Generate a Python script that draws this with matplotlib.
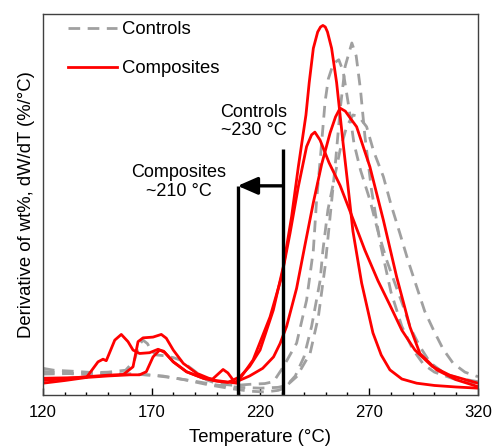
import matplotlib
matplotlib.use('Agg')
import matplotlib.pyplot as plt

plt.rcParams['font.family'] = ['Liberation Sans', 'DejaVu Sans']

# composites (red), temperature in C, derivative in arbitrary units (0-100)
comp1_t = [120, 130, 140, 145.3, 147.6, 149.1, 153, 156, 159.1, 161.4, 164.4, 169, 172.9, 175.9,
           179.9, 186, 193.7, 200, 205, 210.6, 215, 219.8, 225.9, 230.5, 234.3, 237.4, 240.9,
           242.4, 244.3, 246.3, 247.6, 248.7, 249.8, 250.8, 252.7, 255, 256.5, 258, 260, 262.5,
           266.5, 271.7, 275.5, 279.5, 285, 291.8, 300, 310, 320]
comp1_y = [4.4, 4.5, 4.6, 8.7, 9.4, 9.0, 14.4, 15.9, 14.0, 11.8, 10.9, 11.1, 12.0, 11.2,
           8.7, 6.1, 4.4, 3.6, 3.3, 4.8, 7.5, 11.8, 22.3, 33.7, 46.8, 59.9, 73.5,
           82, 91, 95.3, 96.6, 97, 96.6, 95.3, 91, 82, 74, 66, 56, 43,
           29.4, 16.3, 10.5, 6.6, 4.2, 3.1, 2.5, 2.1, 1.8]

comp2_t = [120, 130, 140, 150, 157, 161.4, 163.7, 166, 170.6, 174.4, 176.7, 179.9, 184.5, 190.7,
           198.3, 209.1, 216.6, 224.4, 229.7, 233.6, 237.4, 241.2, 243.5, 245, 247.4, 251.5, 256.6,
           262, 268, 274, 279.5, 285, 291, 299, 307, 320]
comp2_y = [3.8, 4.3, 4.8, 5.2, 5.4, 7.4, 14.0, 15.0, 15.2, 15.9, 14.9, 11.8, 8.3, 5.7,
           3.9, 3.1, 9.2, 20.5, 31.0, 42.5, 54.7, 65.2, 68.3, 69, 66.9, 61, 55,
           47, 38, 30, 23.6, 17, 11.8, 7.5, 5.2, 3.1]

comp3_t = [120, 130, 140, 150, 160, 164.4, 167.5, 170.6, 173.6, 175.5, 179.9, 186, 193.7, 198,
           200.5, 202.8, 205, 208.1, 210.6, 215, 221, 226, 229, 232, 236.6, 240.5, 244.3, 248.1,
           252, 254.5, 256.6, 259, 261.5, 264.2, 270.3, 276.5, 282.6, 288.7, 293.3, 301, 310, 320]
comp3_y = [3.1, 3.8, 4.6, 5.0, 5.3, 5.3, 6.1, 10.0, 11.8, 11.5, 8.7, 6.1, 4.4, 4.2,
           5.5, 6.7, 5.8, 3.4, 3.9, 5.0, 7.0, 10.0, 13.5, 18, 28, 39.5, 50.5, 60.5,
           68.8, 73, 75.3, 74.5, 72.5, 70.4, 59.9, 45.9, 31, 17.9, 10.9, 6.6, 4.0, 2.2]

# controls (grey dashed)
ctrl1_t = [120, 125, 135, 145, 155, 165, 175, 185, 195, 205, 215, 222, 228, 230.5, 236.6, 242.8,
           246.6, 249.7, 252, 254.3, 256.6, 258.9, 262, 264, 266, 268, 271, 275, 280, 285, 290,
           295, 300, 310, 320]
ctrl1_y = [7, 6.5, 6.2, 5.8, 5.6, 5.4, 5, 4, 2.8, 1.8, 1.0, 0.8, 1.2, 1.7, 4.8, 10.9,
           20.5, 33.7, 46.8, 59.9, 74.8, 86.2, 92.4, 89, 80, 68, 54, 40, 27, 18, 12,
           8, 6, 4, 3]

ctrl2_t = [120, 135, 150, 160, 170, 180, 190, 200, 210, 220, 228, 232, 236, 240, 243.5, 247.4,
           248.7, 251, 253.5, 256.6, 259.6, 262.5, 264, 266, 268.8, 272, 276.5, 280, 284.1, 288,
           291.8, 295.5, 299.5, 304, 308.6, 314, 320]
ctrl2_y = [6.2, 5.5, 5.3, 5.5, 5.2, 4.5, 3.6, 2.6, 2.0, 1.8, 2.0, 2.5, 5, 10, 18, 30,
           38, 48.6, 55.6, 64.3, 70.4, 73.5, 73.3, 72.5, 70.4, 64, 57.3, 50, 42.4, 35,
           28.4, 22, 17.1, 12, 8.3, 6, 4.8]

ctrl3_t = [120, 130, 140, 150, 158, 162, 164, 166, 168, 170, 172.3, 176, 180, 183, 189, 195,
           200, 208, 215, 222, 226, 230.5, 236.6, 241.2, 244.3, 245.8, 247.5, 249.7, 251.2, 253.5,
           256, 258, 260.5, 263, 266, 270.3, 274, 278, 282, 285.7, 289, 293.3, 298, 305, 312, 320]
ctrl3_y = [5.5, 5.6, 5.8, 6, 6.5, 9, 13, 14.4, 13.5, 11.5, 10.5, 10.3, 9.8, 9.2, 6.6, 4,
           3, 2.5, 2.8, 3, 3.5, 7.4, 13.6, 24.9, 38, 51.2, 62, 77, 83, 87,
           88, 85, 76, 66, 59, 51.2, 43, 35.4, 29, 23.2, 17.5, 12.7, 8.5, 5.5, 4.3, 3.5]

composites = [(comp1_t, comp1_y), (comp2_t, comp2_y), (comp3_t, comp3_y)]
controls = [(ctrl1_t, ctrl1_y), (ctrl2_t, ctrl2_y), (ctrl3_t, ctrl3_y)]

onset_ctrl = 230.5
onset_comp = 209.5

fig = plt.figure(figsize=(4.94, 4.48), dpi=100)
ax = fig.add_axes([0.087, 0.1183, 0.8806, 0.8504])

grey = '#a0a0a0'
for i, (t, y) in enumerate(controls):
    ax.plot(t, y, color=grey, lw=2.0, ls=(0, (4.2, 2.7)), label='Controls' if i == 0 else None)
for i, (t, y) in enumerate(composites):
    ax.plot(t, y, color='#ff0000', lw=2.0, label='Composites' if i == 0 else None)

# onset markers
ax.plot([onset_ctrl, onset_ctrl], [0, 64.7], color='k', lw=2.4, solid_capstyle='butt')
ax.plot([onset_comp, onset_comp], [0, 54.9], color='k', lw=2.4, solid_capstyle='butt')
ax.annotate('', xy=(onset_comp, 54.9), xytext=(onset_ctrl, 54.9),
            arrowprops=dict(arrowstyle='-|>,head_length=0.8,head_width=0.35', color='k',
                            lw=2.4, mutation_scale=15, shrinkA=0, shrinkB=0))
ax.text(217, 71.7, 'Controls\n~230 °C', ha='center', va='center', fontsize=13,
        linespacing=1.1)
ax.text(182.5, 55.9, 'Composites\n~210 °C', ha='center', va='center', fontsize=13,
        linespacing=1.1)

ax.set_xlim(120, 320)
ax.set_ylim(0, 100)
ax.set_xticks([120, 170, 220, 270, 320])
ax.set_xticks(range(120, 321, 10), minor=True)
ax.set_yticks([])
ax.tick_params(axis='x', which='major', direction='in', length=5, width=1, labelsize=12, pad=7)
ax.tick_params(axis='x', which='minor', direction='in', length=2.5, width=1)
for s in ax.spines.values():
    s.set_color('#404040')
    s.set_linewidth(1)

ax.set_xlabel('Temperature (°C)', fontsize=13.3, labelpad=7)
ax.set_ylabel('Derivative of wt%, dW/dT (%/°C)', fontsize=13.3, labelpad=6)

leg = ax.legend(loc='upper left', bbox_to_anchor=(0.02, 1.025), frameon=False, fontsize=13.3,
                handlelength=2.65, handletextpad=0.25, labelspacing=1.2)

fig.savefig('out.png', dpi=100)
